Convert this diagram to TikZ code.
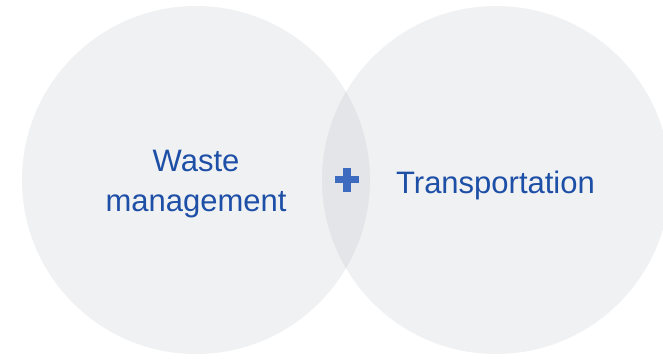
\documentclass[tikz,border=0pt]{standalone}
\usepackage{fontspec}
\setmainfont{Liberation Sans}
\definecolor{circlefill}{HTML}{F0F1F3}
\definecolor{overlapfill}{HTML}{E4E5E8}
\definecolor{labelblue}{HTML}{1E4FA7}
\definecolor{plusblue}{HTML}{3C6BBF}
\begin{document}
\begin{tikzpicture}[x=1bp,y=-1bp,
  venn/.style={circle, fill=circlefill, minimum size=348bp, inner sep=0pt},
  label text/.style={text=labelblue, inner sep=0pt, font=\fontsize{31bp}{40bp}\selectfont, align=center},
  plusarm/.style={fill=plusblue}]
  \useasboundingbox (0,0) rectangle (663,358);
  \clip (0,0) rectangle (663,358);
  % two overlapping circles
  \node[venn] (left) at (196,180) {};
  \node[venn] (right) at (496,180) {};
  % shaded lens where they meet
  \begin{scope}
    \clip (196,180) circle[radius=174];
    \fill[overlapfill] (496,180) circle[radius=174];
  \end{scope}
  % labels
  \node[label text] (waste) at (196,184) {Waste\\management};
  \node[label text, anchor=base] (transport) at (495.5,193) {Transportation};
  % plus sign in the overlap
  \coordinate (plus) at (347,179.5);
  \fill[plusarm] ([shift={(-12,-3.8)}]plus) rectangle ([shift={(12,3.8)}]plus);
  \fill[plusarm] ([shift={(-3.8,-12)}]plus) rectangle ([shift={(3.8,12)}]plus);
\end{tikzpicture}
\end{document}
